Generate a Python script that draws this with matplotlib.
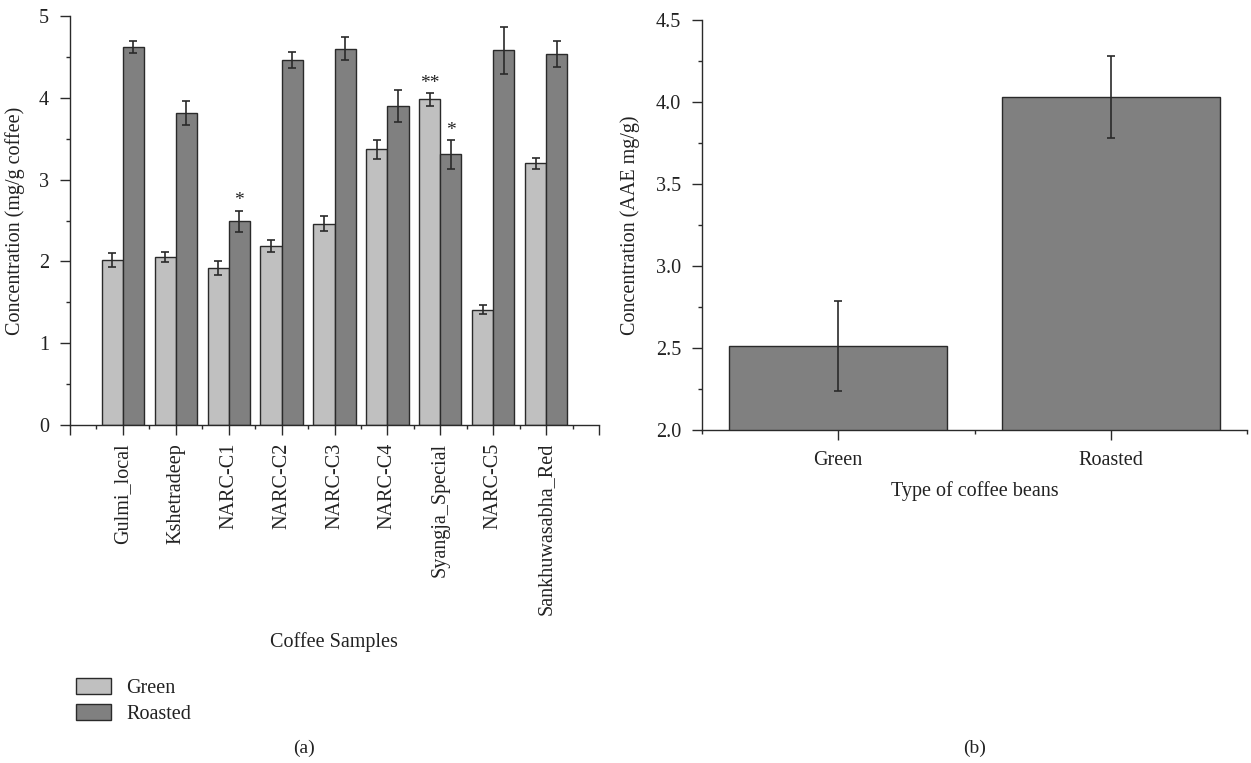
import matplotlib
matplotlib.use("Agg")
import matplotlib.pyplot as plt
import matplotlib.patches as mpatches
import numpy as np

plt.rcParams['font.family'] = ['Liberation Serif', 'DejaVu Serif']
plt.rcParams['font.size'] = 14.5

# --- panel (a) data ---
samples = ["Gulmi_local", "Kshetradeep", "NARC-C1", "NARC-C2", "NARC-C3",
           "NARC-C4", "Syangja_Special", "NARC-C5", "Sankhuwasabha_Red"]
green_vals = [2.02, 2.05, 1.92, 2.19, 2.46, 3.37, 3.98, 1.41, 3.20]
green_err = [0.085, 0.06, 0.09, 0.075, 0.09, 0.12, 0.08, 0.057, 0.065]
roasted_vals = [4.62, 3.81, 2.49, 4.46, 4.60, 3.90, 3.31, 4.58, 4.54]
roasted_err = [0.07, 0.145, 0.13, 0.10, 0.14, 0.20, 0.175, 0.29, 0.16]
green_sig = ["", "", "", "", "", "", "**", "", ""]
roasted_sig = ["", "", "*", "", "", "", "*", "", ""]

# --- panel (b) data ---
bean_types = ["Green", "Roasted"]
bean_vals = [2.51, 4.03]
bean_err = [0.275, 0.25]

GREEN_C = "#c0c0c0"
ROAST_C = "#808080"
EDGE_C = "#2a2a2a"
TEXT_C = "#222222"
FS = 14.5

W, H = 1251, 763
fig = plt.figure(figsize=(W / 100, H / 100), dpi=100)


def px_axes(x0, y0, x1, y1):
    return fig.add_axes([x0 / W, 1 - y1 / H, (x1 - x0) / W, (y1 - y0) / H])


def style_axes(ax):
    ax.spines['top'].set_visible(False)
    ax.spines['right'].set_visible(False)
    for s in ('left', 'bottom'):
        ax.spines[s].set_linewidth(1.0)
        ax.spines[s].set_color(EDGE_C)
    ax.tick_params(which='major', direction='out', length=6, width=1.0,
                   color=EDGE_C, labelcolor=TEXT_C, labelsize=FS)
    ax.tick_params(which='minor', direction='out', length=3, width=1.0,
                   color=EDGE_C)


# ---------------- (a) ----------------
ax1 = px_axes(70, 16, 599, 425)
x = np.arange(1, len(samples) + 1)
bw = 0.4
ax1.bar(x - 0.2, green_vals, bw, yerr=green_err, color=GREEN_C,
        edgecolor=EDGE_C, linewidth=1.0, capsize=3.2,
        error_kw=dict(ecolor=EDGE_C, elinewidth=1.2, capthick=1.2),
        label="Green", zorder=2)
ax1.bar(x + 0.2, roasted_vals, bw, yerr=roasted_err, color=ROAST_C,
        edgecolor=EDGE_C, linewidth=1.0, capsize=3.2,
        error_kw=dict(ecolor=EDGE_C, elinewidth=1.2, capthick=1.2),
        label="Roasted", zorder=2)

for i in range(len(samples)):
    if green_sig[i]:
        ax1.text(x[i] - 0.2, green_vals[i] + green_err[i] + 0.12, green_sig[i],
                 ha='center', va='center', fontsize=14, color=TEXT_C)
    if roasted_sig[i]:
        ax1.text(x[i] + 0.2, roasted_vals[i] + roasted_err[i] + 0.12, roasted_sig[i],
                 ha='center', va='center', fontsize=14, color=TEXT_C)

ax1.set_xlim(0, 10)
ax1.set_ylim(0, 5)
ax1.set_xticks(np.arange(0, 11))
ax1.set_xticklabels([""] + samples + [""], rotation=90)
ax1.set_xticks(np.arange(0.5, 10, 1), minor=True)
ax1.set_yticks(np.arange(0, 6))
ax1.set_yticks(np.arange(0.5, 5, 1), minor=True)
style_axes(ax1)
ax1.tick_params(axis='x', which='major', length=7, pad=6)
ax1.tick_params(axis='y', which='major', length=7, pad=8)
ax1.set_ylabel("Concentration (mg/g coffee)", fontsize=FS, color=TEXT_C)
ax1.yaxis.set_label_coords((25 - 70) / 529, 0.5)

fig.text(334 / W, 1 - 642 / H, "Coffee Samples", ha='center', va='center',
         fontsize=FS, color=TEXT_C)

handles = [mpatches.Patch(facecolor=GREEN_C, edgecolor=EDGE_C, label="Green"),
           mpatches.Patch(facecolor=ROAST_C, edgecolor=EDGE_C, label="Roasted")]
fig.legend(handles=handles, loc='upper left',
           bbox_to_anchor=(62 / W, 1 - 664 / H), frameon=False,
           fontsize=FS, handlelength=1.75, handleheight=0.85,
           handletextpad=0.75, labelspacing=0.3, borderpad=0.2,
           labelcolor=TEXT_C)

fig.text(304 / W, 1 - 748 / H, "(a)", ha='center', va='center',
         fontsize=14, color=TEXT_C)

# ---------------- (b) ----------------
ax2 = px_axes(702, 20, 1247, 430)
xb = np.arange(1, len(bean_types) + 1)
ax2.bar(xb, bean_vals, 0.8, yerr=bean_err, color=ROAST_C,
        edgecolor=EDGE_C, linewidth=1.0, capsize=3,
        error_kw=dict(ecolor=EDGE_C, elinewidth=1.2, capthick=1.2),
        zorder=2)
ax2.set_xlim(0.5, 2.5)
ax2.set_ylim(2.0, 4.5)
ax2.set_xticks(xb)
ax2.set_xticklabels(bean_types)
ax2.set_xticks([0.5, 1.5, 2.5], minor=True)
ax2.set_yticks(np.arange(2.0, 4.51, 0.5))
ax2.set_yticklabels([f"{v:.1f}" for v in np.arange(2.0, 4.51, 0.5)])
ax2.set_yticks(np.arange(2.25, 4.5, 0.5), minor=True)
style_axes(ax2)
ax2.tick_params(axis='x', which='major', length=7, pad=8)
ax2.tick_params(axis='y', which='major', length=7, pad=8)
ax2.set_ylabel("Concentration (AAE mg/g)", fontsize=FS, color=TEXT_C)
ax2.yaxis.set_label_coords((640 - 702) / 545, 0.5)
ax2.set_xlabel("Type of coffee beans", fontsize=FS, color=TEXT_C, labelpad=8)

fig.text(975 / W, 1 - 748 / H, "(b)", ha='center', va='center',
         fontsize=14, color=TEXT_C)

fig.savefig("out.png", dpi=100)
